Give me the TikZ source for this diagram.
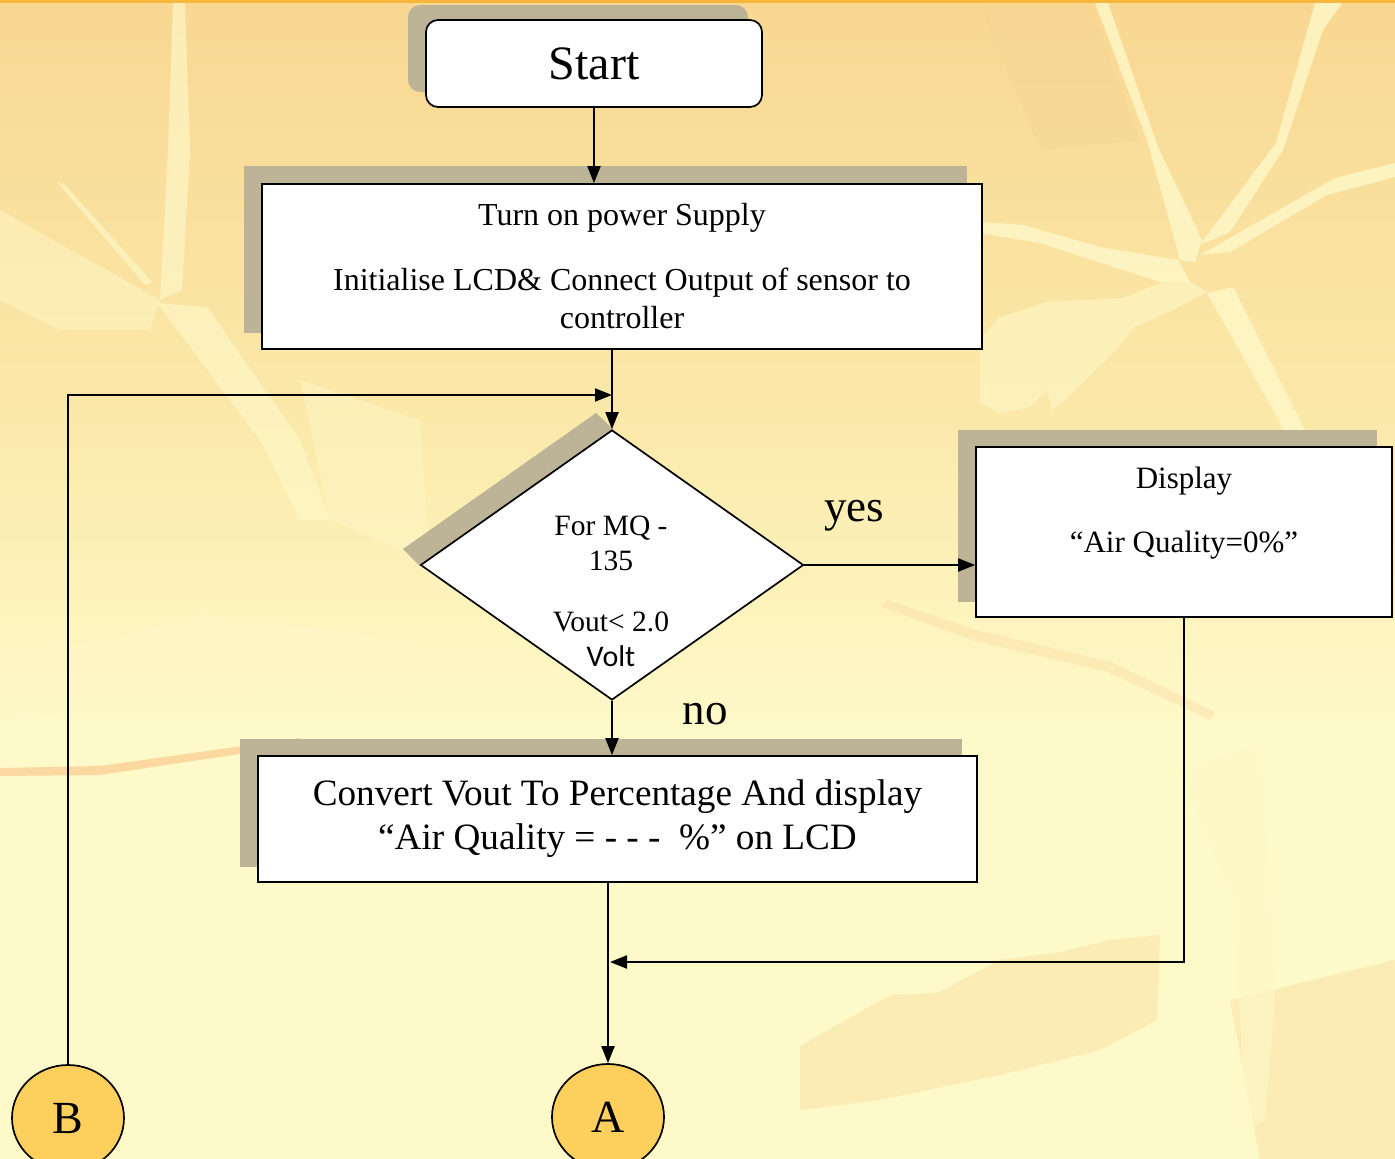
\documentclass[tikz,border=0pt]{standalone}
\usepackage{fontspec}
\setmainfont{Liberation Serif}
\newfontfamily\sansf{Carlito}
\usetikzlibrary{shapes.geometric,arrows.meta}
\definecolor{bgtop}{RGB}{248,215,146}
\definecolor{bgmid}{RGB}{251,233,170}
\definecolor{bgbot}{RGB}{254,249,200}
\definecolor{streak}{RGB}{254,247,198}
\definecolor{darkpatch}{RGB}{247,214,148}
\definecolor{orangeline}{RGB}{250,208,150}
\definecolor{topbar}{RGB}{246,183,60}
\definecolor{shadowc}{RGB}{189,180,152}
\definecolor{circfill}{RGB}{253,208,94}
\begin{document}
\begin{tikzpicture}[x=1pt,y=-1pt,
  box/.style={draw=black,line width=1.7pt,fill=white,inner sep=0pt,align=center},
  arr/.style={line width=2pt,-{Triangle[length=17pt,width=13pt]}},
  conn/.style={draw=black,line width=1.7pt,fill=circfill,ellipse,minimum width=112pt,minimum height=106pt,inner sep=0pt,font=\fontsize{46}{50}\selectfont},
  lbl/.style={font=\fontsize{45}{48}\selectfont}
]
\useasboundingbox (0,0) rectangle (1395,1159);
% background
\fill[bgbot] (0,0) rectangle (1395,1159);
\shade[top color=bgtop, bottom color=bgmid] (0,0) rectangle (1395,420);
\shade[top color=bgmid, bottom color=bgbot] (0,420) rectangle (1395,720);
% darker patches and thin orange streaks
\fill[orangeline,opacity=.8] (0,768) -- (100,766) -- (300,738) -- (305,744) -- (100,775) -- (0,776) -- cycle;
\fill[orangeline,opacity=.3] (887,600) -- (975,630) -- (1111,662) -- (1215,712) -- (1210,720) -- (1108,672) -- (972,640) -- (880,606) -- cycle;
\fill[darkpatch,opacity=.35] (800,1046) -- (890,995) -- (937,993) -- (1000,960) -- (1060,952) -- (1110,940) -- (1160,935) -- (1157,1020) -- (1100,1050) -- (1000,1075) -- (880,1100) -- (800,1110) -- cycle;
\fill[darkpatch,opacity=.35] (1230,1000) -- (1395,960) -- (1395,1159) -- (1260,1159) -- cycle;
\fill[darkpatch,opacity=.5] (980,5) -- (1090,5) -- (1140,140) -- (1040,150) -- cycle;
% light streaks upper right
\fill[streak,opacity=.85] (1095,3) -- (1108,3) -- (1158,147) -- (1202,240) -- (1195,262) -- (1180,260) -- (1147,140) -- cycle;
\fill[streak,opacity=.85] (1315,3) -- (1342,3) -- (1323,30) -- (1283,150) -- (1230,232) -- (1200,245) -- (1276,143) -- cycle;
\fill[streak,opacity=.85] (1200,255) -- (1335,178) -- (1395,163) -- (1395,177) -- (1327,195) -- (1230,252) -- cycle;
\fill[streak,opacity=.85] (980,222) -- (1023,225) -- (1100,247) -- (1178,260) -- (1190,282) -- (1160,282) -- (1040,243) -- (980,233) -- cycle;
\fill[streak,opacity=.6] (1187,280) -- (1207,292) -- (1177,308) -- (1135,327) -- (1113,353) -- (1062,403) -- (1052,410) -- (1047,390) -- (1030,407) -- (1000,413) -- (980,403) -- (980,340) -- (998,318) -- (1047,302) -- (1123,298) -- (1160,283) -- cycle;
\fill[streak,opacity=.85] (1207,293) -- (1233,287) -- (1310,440) -- (1345,560) -- (1325,560) -- (1290,440) -- cycle;
\fill[streak,opacity=.7] (1180,770) -- (1260,745) -- (1275,1000) -- (1265,1120) -- (1245,1130) -- (1235,900) -- cycle;
% light streaks upper left
\fill[streak,opacity=.7] (173,3) -- (185,3) -- (190,150) -- (182,290) -- (160,300) -- (168,150) -- cycle;
\fill[streak,opacity=.7] (157,303) -- (207,307) -- (300,440) -- (330,520) -- (300,520) -- (260,440) -- cycle;
\fill[streak,opacity=.7] (57,182) -- (65,185) -- (152,282) -- (145,285) -- cycle;
\fill[streak,opacity=.5] (0,210) -- (160,300) -- (150,330) -- (60,330) -- (0,300) -- cycle;
\fill[streak,opacity=.5] (300,380) -- (420,420) -- (430,560) -- (330,520) -- cycle;
\fill[streak,opacity=.6] (0,650) -- (100,640) -- (200,615) -- (290,625) -- (420,640) -- (420,700) -- (300,690) -- (150,700) -- (0,720) -- cycle;
% top bar
\fill[topbar] (0,0) rectangle (1395,3);

% shadows
\fill[shadowc, rounded corners=12pt] (408,5) rectangle (748,92);
\fill[shadowc] (244,166) rectangle (967,333);
\fill[shadowc] (596,413) -- (614,430) -- (420,566) -- (403,549) -- cycle;
\fill[shadowc] (958,430) rectangle (1377,602);
\fill[shadowc] (240,739) rectangle (962,867);

% nodes
\node[box, rounded corners=12pt, minimum width=336pt, minimum height=87pt, font=\fontsize{48}{52}\selectfont] (start) at (594,63.5) {Start};
\node[box, minimum width=720pt, minimum height=165pt, font=\fontsize{32}{38}\selectfont] (supply) at (622,266.5)
  {Turn on power Supply\\[27pt]Initialise LCD\& Connect Output of sensor to\\controller};
\node[draw=black, line width=1.7pt, fill=white, diamond, minimum width=383pt, minimum height=270pt, inner sep=0pt] (dia) at (612,565) {};
\node[align=center, font=\fontsize{29.5}{35}\selectfont] (diatext) at (611,591)
  {For MQ -\\135\\[26pt]Vout< 2.0\\{\sansf\fontsize{30}{35}\selectfont Volt}};
\node[box, minimum width=416pt, minimum height=170pt] (disp) at (1184,532) {};
\node[align=center, font=\fontsize{31}{64}\selectfont] (disptext) at (1184,513)
  {Display\\“Air Quality=0\%”};
\node[box, minimum width=719pt, minimum height=126pt, font=\fontsize{37.2}{44}\selectfont] (conv) at (617.5,819)
  {Convert Vout To Percentage And display\\“Air Quality = - - -~~\%” on LCD};
\node[conn] (A) at (608,1117) {A};
\node[conn] (B) at (68,1118) {B};
\node[lbl] (yes) at (854,516) {yes};
\node[lbl] (no) at (705,714) {no};

\coordinate (loopin) at (612,395);
\coordinate (merge) at (610,962);

% connectors
\draw[arr] (start.south) -- (start.south |- supply.north);
\draw[arr] (dia.north |- supply.south) -- (dia.north);
\draw[arr] (B.north) |- (loopin);
\draw[arr] (dia.east) -- (dia.east -| disp.west);
\draw[arr] (dia.south) -- (dia.south |- conv.north);
\draw[arr] (A.north |- conv.south) -- (A.north);
\draw[arr] (disp.south) -- (disp.south |- merge) -- (merge);
\end{tikzpicture}
\end{document}
